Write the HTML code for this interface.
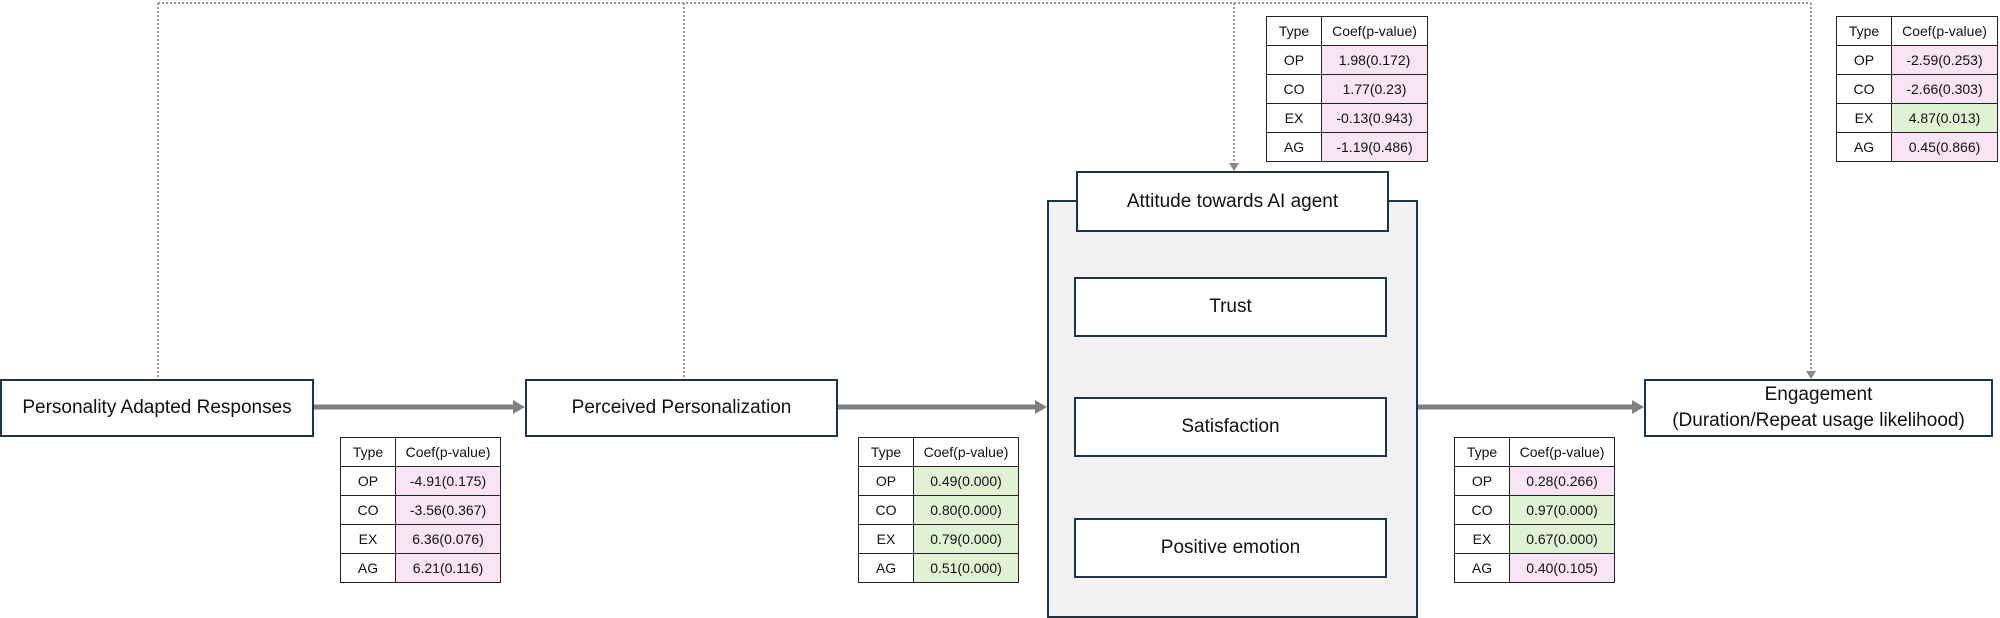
<!DOCTYPE html>
<html><head><meta charset="utf-8"><style>
body{margin:0;width:2000px;height:615px;background:#fff;position:relative;overflow:hidden;font-family:"Liberation Sans",sans-serif;color:#111}
.b{position:absolute;box-sizing:border-box;border:2.5px solid #1c3444;background:#fff;display:flex;align-items:center;justify-content:center;text-align:center;font-size:19px;line-height:26px}
table{position:absolute;border-collapse:collapse;font-size:14px}
td{border:1.5px solid #222;height:28px;text-align:center;padding:0;background:#fff}
td.t{width:54px}
td.p{background:#f8e4f4}
td.g{background:#dff3d4}
</style></head><body>
<svg width="2000" height="615" style="position:absolute;left:0;top:0">
<g stroke="#999" stroke-width="2" stroke-dasharray="2,2" fill="none">
<line x1="158" y1="3" x2="1811" y2="3"/>
<line x1="158" y1="3" x2="158" y2="379"/>
<line x1="684" y1="3" x2="684" y2="379"/>
<line x1="1234" y1="3" x2="1234" y2="163"/>
<line x1="1811" y1="3" x2="1811" y2="371"/>
</g>
<g fill="#888">
<polygon points="1229,163 1239,163 1234,171"/>
<polygon points="1806,371 1816,371 1811,379"/>
</g>
<g stroke="#808080" stroke-width="5">
<line x1="313" y1="407" x2="515" y2="407"/>
<line x1="837" y1="407" x2="1037" y2="407"/>
<line x1="1417" y1="407" x2="1634" y2="407"/>
</g>
<g fill="#808080">
<polygon points="513,400 525,407 513,414"/>
<polygon points="1035,400 1047,407 1035,414"/>
<polygon points="1632,400 1644,407 1632,414"/>
</g>
</svg>
<div class="b" style="left:0;top:379px;width:314px;height:58px">Personality Adapted Responses</div>
<div class="b" style="left:525px;top:379px;width:313px;height:58px">Perceived Personalization</div>
<div class="b" style="left:1047px;top:200px;width:371px;height:418px;background:#f2f2f2"></div>
<div class="b" style="left:1076px;top:171px;width:313px;height:61px">Attitude towards AI agent</div>
<div class="b" style="left:1074px;top:277px;width:313px;height:60px">Trust</div>
<div class="b" style="left:1074px;top:397px;width:313px;height:60px">Satisfaction</div>
<div class="b" style="left:1074px;top:518px;width:313px;height:60px">Positive emotion</div>
<div class="b" style="left:1644px;top:379px;width:349px;height:58px">Engagement<br>(Duration/Repeat usage likelihood)</div>

<table style="left:340px;top:437px;width:161px"><tr><td class="t">Type</td><td>Coef(p-value)</td></tr>
<tr><td>OP</td><td class="p">-4.91(0.175)</td></tr><tr><td>CO</td><td class="p">-3.56(0.367)</td></tr><tr><td>EX</td><td class="p">6.36(0.076)</td></tr><tr><td>AG</td><td class="p">6.21(0.116)</td></tr></table>

<table style="left:858px;top:437px;width:161px"><tr><td class="t">Type</td><td>Coef(p-value)</td></tr>
<tr><td>OP</td><td class="g">0.49(0.000)</td></tr><tr><td>CO</td><td class="g">0.80(0.000)</td></tr><tr><td>EX</td><td class="g">0.79(0.000)</td></tr><tr><td>AG</td><td class="g">0.51(0.000)</td></tr></table>

<table style="left:1454px;top:437px;width:161px"><tr><td class="t">Type</td><td>Coef(p-value)</td></tr>
<tr><td>OP</td><td class="p">0.28(0.266)</td></tr><tr><td>CO</td><td class="g">0.97(0.000)</td></tr><tr><td>EX</td><td class="g">0.67(0.000)</td></tr><tr><td>AG</td><td class="p">0.40(0.105)</td></tr></table>

<table style="left:1266px;top:16px;width:162px"><tr><td class="t">Type</td><td>Coef(p-value)</td></tr>
<tr><td>OP</td><td class="p">1.98(0.172)</td></tr><tr><td>CO</td><td class="p">1.77(0.23)</td></tr><tr><td>EX</td><td class="p">-0.13(0.943)</td></tr><tr><td>AG</td><td class="p">-1.19(0.486)</td></tr></table>

<table style="left:1836px;top:16px;width:162px"><tr><td class="t">Type</td><td>Coef(p-value)</td></tr>
<tr><td>OP</td><td class="p">-2.59(0.253)</td></tr><tr><td>CO</td><td class="p">-2.66(0.303)</td></tr><tr><td>EX</td><td class="g">4.87(0.013)</td></tr><tr><td>AG</td><td class="p">0.45(0.866)</td></tr></table>
</body></html>
